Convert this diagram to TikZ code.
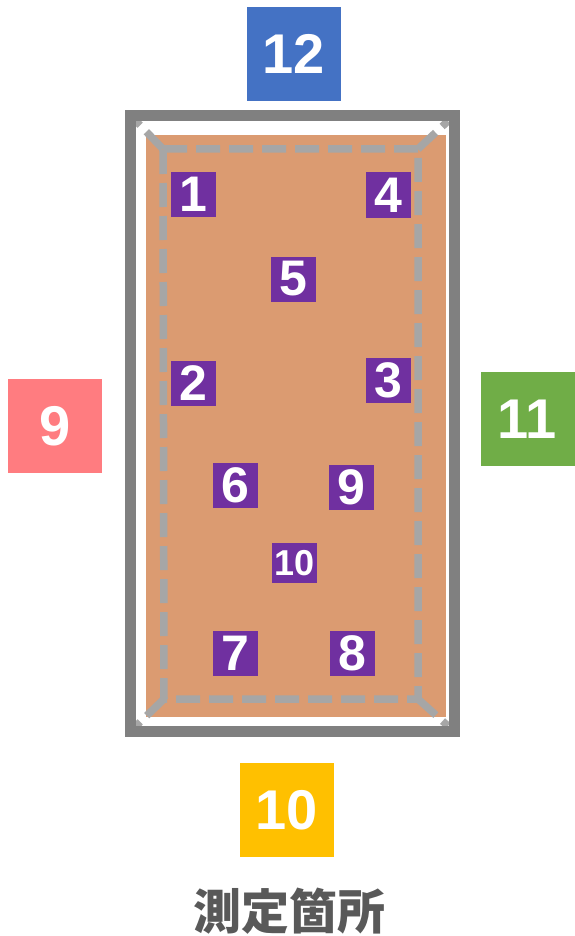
\documentclass[tikz,border=0pt]{standalone}
\usepackage{fontspec}
\setmainfont{Liberation Sans}
\newfontfamily\cjk{Noto Sans CJK JP}
\definecolor{numpurple}{HTML}{7030A0}
\definecolor{floororange}{RGB}{219,155,113}
\definecolor{framegray}{HTML}{808080}
\definecolor{dashgray}{HTML}{A6A6A6}
\definecolor{capgray}{HTML}{595959}
\definecolor{cblue}{HTML}{4472C4}
\definecolor{cpink}{HTML}{FF7C80}
\definecolor{cgreen}{HTML}{70AD47}
\definecolor{cyellow}{HTML}{FFC000}
\begin{document}
\begin{tikzpicture}[x=1pt,y=-1pt,
  numbox/.style={fill=numpurple,text=white,inner sep=0pt,minimum width=45pt,minimum height=45pt,font=\bfseries\fontsize{50}{50}\selectfont},
  smallnum/.style={numbox,minimum width=45pt,minimum height=40pt,font=\bfseries\fontsize{36}{36}\selectfont},
  bigbox/.style={text=white,inner sep=0pt,minimum width=94pt,minimum height=94pt,font=\bfseries\fontsize{56}{56}\selectfont},
  dashline/.style={draw=dashgray,line width=7.5pt,dash pattern=on 24pt off 9pt}]
\useasboundingbox (0,0) rectangle (574,936);
% floor
\fill[white] (130.5,115.5) rectangle (454,731.5);
\fill[floororange] (146,135) rectangle (446,717);
% inner dashed rectangle and corner diagonals
\coordinate (d1) at (163,149);
\coordinate (d2) at (418,149);
\coordinate (d3) at (418,699);
\coordinate (d4) at (164,699);
\coordinate (f1) at (136,121);
\coordinate (f2) at (448,121);
\coordinate (f3) at (448,726);
\coordinate (f4) at (136,726);
\draw[dashline] (d1) -- (d2) -- (d3) -- (d4) -- cycle;
\draw[dashline] (d1) -- (f1);
\draw[dashline] (d2) -- (f2);
\draw[dashline] (d3) -- (f3);
\draw[dashline] (d4) -- (f4);
% frame
\draw[framegray,line width=11pt] (130.5,115.5) rectangle (454,731.5);
% numbered points
\node[numbox] (n1) at (193.5,194.5) {1};
\node[numbox] (n4) at (388.5,195) {4};
\node[numbox] (n5) at (293,279) {5};
\node[numbox] (n2) at (193.5,383.5) {2};
\node[numbox] (n3) at (388.5,380) {3};
\node[numbox] (n6) at (235,485) {6};
\node[numbox] (n9) at (351,487) {9};
\node[smallnum] (n10) at (294.5,563) {10};
\node[numbox] (n7) at (235,653.5) {7};
\node[numbox] (n8) at (352,653.5) {8};
% side markers
\node[bigbox,fill=cblue] (s12) at (293.5,54) {12};
\node[bigbox,fill=cpink] (s9) at (55,426) {9};
\node[bigbox,fill=cgreen] (s11) at (527.5,419) {11};
\node[bigbox,fill=cyellow] (s10) at (287,810) {10};
% caption
\node[text=capgray,font=\cjk\bfseries\fontsize{48}{48}\selectfont] (cap) at (289,911) {測定箇所};
\end{tikzpicture}
\end{document}
